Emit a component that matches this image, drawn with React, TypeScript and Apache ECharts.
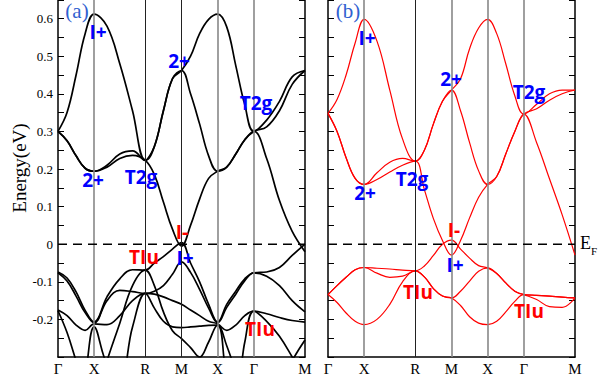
import React, { useEffect, useRef } from "react";
import * as echarts from "echarts";

// k-path sample positions (Γ-X-R-M-X-Γ-M, simple cubic path lengths)
const kPath = [0, 0.125, 0.25, 0.375, 0.5, 0.677, 0.854, 1.03, 1.207, 1.332, 1.457, 1.582, 1.707, 1.832, 1.957, 2.082, 2.207, 2.332, 2.457, 2.582, 2.707, 2.884, 3.061, 3.237, 3.414];
const kTicks = [0, 0.5, 1.207, 1.707, 2.207, 2.707, 3.414];
const kLabels = ["Γ", "X", "R", "M", "X", "Γ", "M"];
const kGrayLinesA = [0.5, 2.207, 2.707];
const kDarkLinesA = [1.207, 1.707];
const kGrayLinesB = [0.5, 1.707, 2.207, 2.707];
const kDarkLinesB = [1.207];
const fermiLevel = [0, 0];

// Panel (a) bands (eV)
const aUp1 = [0.30, 0.35, 0.45, 0.56, 0.612, 0.58, 0.48, 0.355, 0.223, 0.26, 0.355, 0.44, 0.462, 0.50, 0.56, 0.598, 0.612, 0.578, 0.475, 0.37, 0.30, 0.33, 0.38, 0.445, 0.462];
const aUp2 = [0.30, 0.275, 0.235, 0.202, 0.194, 0.21, 0.24, 0.248, 0.223, 0.26, 0.355, 0.44, 0.462, 0.40, 0.32, 0.235, 0.194, 0.205, 0.24, 0.278, 0.30, 0.312, 0.355, 0.425, 0.462];
const aUp3 = [0.30, 0.275, 0.235, 0.202, 0.194, 0.205, 0.228, 0.236, 0.223, 0.185, 0.112, 0.04, -0.005, 0.05, 0.12, 0.175, 0.194, 0.205, 0.24, 0.278, 0.30, 0.228, 0.116, 0.034, -0.02];
const aLo1 = [-0.074, -0.09, -0.127, -0.176, -0.207, -0.14, -0.092, -0.068, -0.069, -0.05, -0.033, -0.013, 0.004, -0.05, -0.10, -0.16, -0.207, -0.16, -0.125, -0.092, -0.076, -0.074, -0.062, -0.03, 0.0];
const aLo2 = [-0.076, -0.098, -0.138, -0.182, -0.209, -0.15, -0.123, -0.126, -0.131, -0.125, -0.11, -0.08, -0.047, -0.075, -0.12, -0.17, -0.209, -0.168, -0.133, -0.097, -0.076, -0.085, -0.11, -0.15, -0.18];
const aLo3 = [-0.175, -0.19, -0.215, -0.229, -0.212, -0.214, -0.19, -0.15, -0.131, -0.133, -0.14, -0.15, -0.16, -0.175, -0.19, -0.205, -0.212, -0.229, -0.215, -0.19, -0.178, -0.185, -0.195, -0.203, -0.207];
const aLo4 = [-0.177, -0.235, -0.31, -0.38, -0.42, -0.31, -0.21, -0.11, -0.069, -0.11, -0.18, -0.23, -0.251, -0.275, -0.30, -0.26, -0.215, -0.27, -0.34, -0.42, -0.45, -0.43, -0.38, -0.31, -0.255];
const aLo5 = [-0.5, -0.5, -0.45, -0.35, -0.22, -0.32, -0.36, -0.22, -0.131, -0.17, -0.205, -0.22, -0.222, -0.22, -0.218, -0.216, -0.215, -0.35, -0.40, -0.26, -0.178, -0.205, -0.245, -0.30, -0.36];

// Panel (b) bands (eV)
const bUp1 = [0.348, 0.385, 0.45, 0.535, 0.598, 0.54, 0.41, 0.28, 0.221, 0.25, 0.32, 0.38, 0.41, 0.44, 0.52, 0.575, 0.598, 0.56, 0.48, 0.395, 0.346, 0.372, 0.40, 0.41, 0.41];
const bUp2 = [0.348, 0.30, 0.23, 0.175, 0.159, 0.19, 0.218, 0.228, 0.221, 0.25, 0.32, 0.38, 0.41, 0.355, 0.27, 0.195, 0.159, 0.18, 0.24, 0.30, 0.346, 0.36, 0.383, 0.40, 0.41];
const bUp3 = [0.348, 0.30, 0.23, 0.175, 0.159, 0.172, 0.192, 0.21, 0.221, 0.145, 0.068, 0.01, -0.029, 0.01, 0.07, 0.125, 0.159, 0.18, 0.24, 0.30, 0.346, 0.27, 0.174, 0.078, -0.029];
const bLo1 = [-0.134, -0.11, -0.088, -0.068, -0.062, -0.064, -0.066, -0.069, -0.071, -0.058, -0.03, 0.0, 0.011, -0.013, -0.037, -0.057, -0.063, -0.078, -0.103, -0.125, -0.134, -0.136, -0.138, -0.141, -0.143];
const bLo2 = [-0.134, -0.11, -0.088, -0.068, -0.062, -0.077, -0.088, -0.085, -0.071, -0.087, -0.118, -0.138, -0.143, -0.125, -0.098, -0.072, -0.063, -0.078, -0.103, -0.125, -0.134, -0.147, -0.166, -0.168, -0.143];
const bLo3 = [-0.134, -0.155, -0.183, -0.205, -0.214, -0.20, -0.16, -0.10, -0.071, -0.087, -0.118, -0.138, -0.143, -0.163, -0.193, -0.21, -0.214, -0.205, -0.18, -0.152, -0.134, -0.136, -0.138, -0.141, -0.143];

const bandsA = [aUp1, aUp2, aUp3, aLo1, aLo2, aLo3, aLo4, aLo5];
const bandsB = [bUp1, bUp2, bUp3, bLo1, bLo2, bLo3];

// Annotations: [text, color, x, y]
const BLUE = "#0000ff";
const RED = "#ff0000";
const notes: [string, string, number, number][] = [
  ["I+", BLUE, 98, 32], ["2+", BLUE, 179, 61], ["T2g", BLUE, 256, 103],
  ["2+", BLUE, 93, 180], ["T2g", BLUE, 141, 177], ["I-", RED, 182, 232],
  ["TIu", RED, 144, 257], ["I+", BLUE, 185, 258], ["TIu", RED, 260, 329],
  ["I+", BLUE, 367, 38], ["2+", BLUE, 451, 79], ["T2g", BLUE, 529, 92],
  ["T2g", BLUE, 412, 179], ["2+", BLUE, 365, 193], ["I-", RED, 454, 230],
  ["I+", BLUE, 455, 265], ["TIu", RED, 418, 292], ["TIu", RED, 529, 311],
];

const SERIF = "'Liberation Serif', 'DejaVu Serif', serif";
const SANS = "'Open Sans', 'DejaVu Sans', sans-serif";

export default function App() {
  const ref = useRef<HTMLDivElement>(null);
  useEffect(() => {
    if (!ref.current) return;
    const chart = echarts.init(ref.current, undefined, { renderer: "svg" });

    const yAxisBase = (gridIndex: number, position: string, labels: boolean) => ({
      type: "value",
      gridIndex,
      position,
      min: -0.3,
      max: 0.7,
      interval: 0.1,
      axisLine: { show: true, onZero: false, lineStyle: { color: "#000", width: 1.5 } },
      axisTick: { show: true, inside: true, length: 6, lineStyle: { color: "#000", width: 1 } },
      minorTick: { show: true, splitNumber: 2, length: 6, lineStyle: { color: "#000", width: 1 } },
      splitLine: { show: false },
      axisLabel: {
        show: labels,
        margin: 5,
        color: "#000",
        fontFamily: SERIF,
        fontSize: 13,
        showMinLabel: false,
        showMaxLabel: false,
        formatter: (v: number) => {
          if (v < -0.25 || v > 0.65) return "";
          const r = Math.round(v * 10) / 10;
          return r === 0 ? "0" : String(r);
        },
      },
    });

    const xAxisBase = (gridIndex: number) => ({
      type: "value",
      gridIndex,
      position: "bottom",
      min: 0,
      max: 3.414,
      axisLine: { show: true, onZero: false, lineStyle: { color: "#000", width: 1.5 } },
      axisTick: { show: false },
      splitLine: { show: false },
      axisLabel: {
        customValues: kTicks,
        margin: 4,
        color: "#000",
        fontFamily: SERIF,
        fontSize: 15,
        formatter: (v: number) => {
          const i = kTicks.findIndex((t) => Math.abs(t - v) < 1e-6);
          return i >= 0 ? kLabels[i] : "";
        },
      },
    });

    const vLines = (gray: number[], dark: number[]) => [
      ...gray.map((x) => ({ xAxis: x, lineStyle: { color: "#888", width: 1.6, type: "solid" } })),
      ...dark.map((x) => ({ xAxis: x, lineStyle: { color: "#222", width: 1, type: "solid" } })),
    ];

    const bandSeries = (bands: number[][], idx: number, color: string, width: number) =>
      bands.map((b) => ({
        type: "line",
        xAxisIndex: idx,
        yAxisIndex: idx * 2,
        data: kPath.map((k, i) => [k, b[i]]),
        smooth: 0.4,
        showSymbol: false,
        symbol: "none",
        clip: true,
        silent: true,
        lineStyle: { color, width },
        z: 3,
      }));

    const guideSeries = (idx: number, gray: number[], dark: number[]) => ({
      type: "line",
      xAxisIndex: idx,
      yAxisIndex: idx * 2,
      data: [],
      silent: true,
      z: 1,
      markLine: {
        silent: true,
        symbol: ["none", "none"],
        label: { show: false },
        animation: false,
        data: vLines(gray, dark),
      },
    });

    const fermiSeries = (idx: number) => ({
      type: "line",
      xAxisIndex: idx,
      yAxisIndex: idx * 2,
      data: [[kTicks[0], fermiLevel[0]], [kTicks[kTicks.length - 1], fermiLevel[1]]],
      silent: true,
      showSymbol: false,
      symbol: "none",
      z: 5,
      lineStyle: { color: "#000", width: 1.6, type: [9, 6] },
    });

    const graphics: any[] = notes.map(([t, c, x, y]) => ({
      type: "text",
      x,
      y,
      z: 10,
      style: {
        text: t,
        fill: c,
        font: `bold 19px ${SANS}`,
        align: "center",
        verticalAlign: "middle",
      },
    }));
    graphics.push(
      { type: "text", x: 77, y: 11, z: 10, style: { text: "(a)", fill: "#3060d0", font: `21px ${SERIF}`, align: "center", verticalAlign: "middle" } },
      { type: "text", x: 348, y: 11, z: 10, style: { text: "(b)", fill: "#3060d0", font: `21px ${SERIF}`, align: "center", verticalAlign: "middle" } },
      { type: "text", x: 19, y: 168, rotation: Math.PI / 2, z: 10, style: { text: "Energy(eV)", fill: "#000", font: `19px ${SERIF}`, align: "center", verticalAlign: "middle" } },
      { type: "text", x: 580, y: 243, z: 10, style: { text: "E", fill: "#000", font: `18px ${SERIF}`, align: "left", verticalAlign: "middle" } },
      { type: "text", x: 591, y: 251, z: 10, style: { text: "F", fill: "#000", font: `11px ${SERIF}`, align: "left", verticalAlign: "middle" } }
    );

    chart.setOption({
      animation: false,
      backgroundColor: "#fff",
      grid: [
        { left: 58, top: -19, width: 247, height: 376, outerBoundsMode: "none", containLabel: false },
        { left: 328, top: -19, width: 247, height: 376, outerBoundsMode: "none", containLabel: false },
      ],
      xAxis: [xAxisBase(0), xAxisBase(1)],
      yAxis: [
        yAxisBase(0, "left", true),
        yAxisBase(0, "right", false),
        yAxisBase(1, "left", false),
        yAxisBase(1, "right", false),
      ],
      series: [
        guideSeries(0, kGrayLinesA, kDarkLinesA),
        guideSeries(1, kGrayLinesB, kDarkLinesB),
        ...bandSeries(bandsA, 0, "#000", 1.7),
        ...bandSeries(bandsB, 1, "#ff0000", 1.2),
        fermiSeries(0),
        fermiSeries(1),
      ],
      graphic: graphics,
    });
    return () => chart.dispose();
  }, []);
  return <div ref={ref} style={{ position: "fixed", left: 0, top: 0, width: 598, height: 383 }} />;
}
